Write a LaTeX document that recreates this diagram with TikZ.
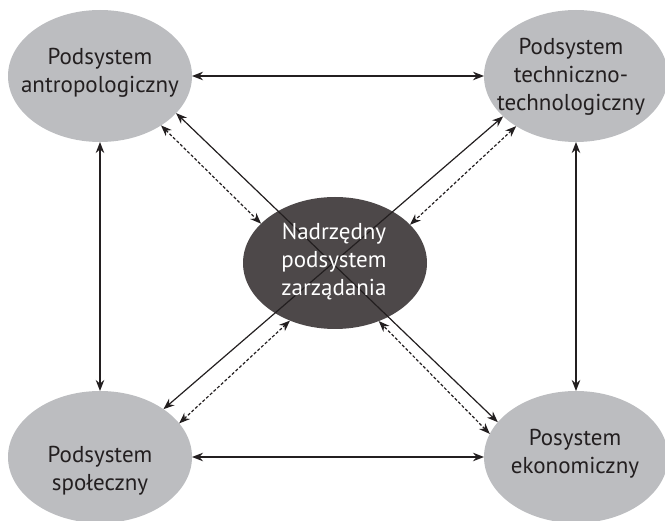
\documentclass[tikz,border=0pt]{standalone}
\usepackage{fontspec}
\setmainfont{PT Sans}
\usetikzlibrary{arrows.meta,shapes.geometric}
\definecolor{bubble}{HTML}{BCBDC0}
\definecolor{core}{HTML}{4D4849}
\definecolor{ink}{HTML}{231F20}

\begin{document}
\begin{tikzpicture}[x=1pt,y=-1pt,
  sub/.style={ellipse, fill=bubble, minimum width=184pt, minimum height=132pt,
              inner sep=0pt, outer sep=0pt},
  hub/.style={sub, fill=core},
  lbl/.style={align=center, font=\fontsize{23}{28}\selectfont, text=ink, inner sep=0pt},
  link/.style={draw=ink, line width=1.2pt,
               {Stealth[length=11pt,width=8.5pt]}-{Stealth[length=11pt,width=8.5pt]}},
  dotlink/.style={link, dash pattern=on 3pt off 2pt}]

\useasboundingbox (0,0) rectangle (665,521);

% subsystems
\node[sub] (tl) at (100,76) {};
\node[sub] (tr) at (576,76) {};
\node[sub] (bl) at (100,457) {};
\node[sub] (br) at (576,457) {};
\node[hub] (c)  at (335,263) {};

% links between the outer subsystems
\draw[link] (tl) -- (tr);
\draw[link] (bl) -- (br);
\draw[link] (tl) -- (bl);
\draw[link] (tr) -- (br);

% diagonals through the management subsystem
\draw[link] (tl.-26.6) -- (br.156);
\draw[link] (tr.209.4) -- (bl.37.2);

% feedback links to the management subsystem
\draw[dotlink] (tl.-39)    -- (c.152.5);
\draw[dotlink] (tr.220.6)  -- (c.27.5);
\draw[dotlink] (bl.23.6)   -- (c.232);
\draw[dotlink] (br.165)    -- (c.-53.6);

% labels
\node[lbl] (tlt) at (100,73)  {Podsystem\\antropologiczny};
\node[lbl] (trt) at (571,76.5) {Podsystem\\techniczno-\\technologiczny};
\node[lbl] (blt) at (100,471) {Podsystem\\społeczny};
\node[lbl] (brt) at (575,454) {Posystem\\ekonomiczny};
\node[lbl, text=white] (ct) at (334,262) {Nadrzędny\\podsystem\\zarządania};
\end{tikzpicture}
\end{document}
